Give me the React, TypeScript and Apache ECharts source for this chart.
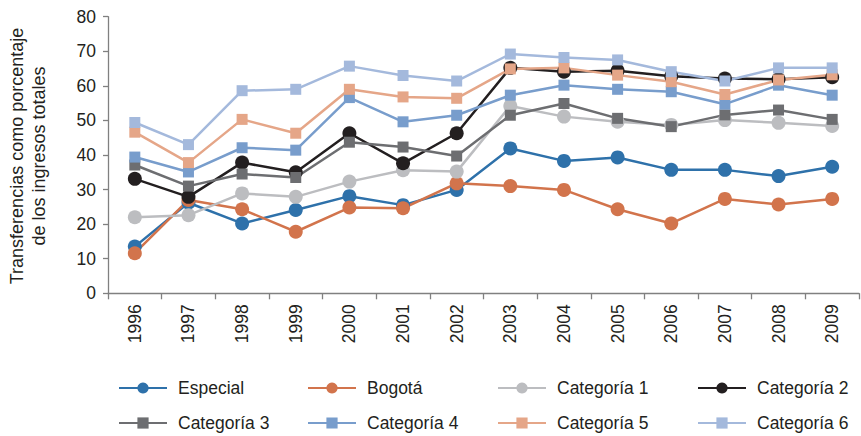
import React, { useEffect, useRef } from "react";
import * as echarts from "echarts";

const years = ["1996","1997","1998","1999","2000","2001","2002","2003","2004","2005","2006","2007","2008","2009"];
const especial = [13.5, 26.2, 20.2, 24.1, 28.1, 25.5, 29.9, 41.9, 38.3, 39.3, 35.7, 35.7, 33.9, 36.6];
const bogota = [11.6, 27.0, 24.3, 17.8, 24.8, 24.6, 31.8, 31.0, 29.9, 24.3, 20.2, 27.3, 25.7, 27.3];
const categoria1 = [22.0, 22.6, 28.9, 27.9, 32.3, 35.6, 35.2, 54.2, 51.1, 49.6, 48.7, 50.1, 49.3, 48.4];
const categoria2 = [33.1, 27.9, 37.8, 35.0, 46.3, 37.6, 46.3, 65.2, 64.1, 64.4, 62.8, 62.1, 61.9, 62.5];
const categoria3 = [37.1, 31.0, 34.5, 33.5, 43.7, 42.3, 39.7, 51.5, 54.9, 50.6, 48.2, 51.6, 53.0, 50.3];
const categoria4 = [39.4, 35.1, 42.1, 41.4, 56.6, 49.6, 51.5, 57.3, 60.2, 59.0, 58.3, 54.7, 60.2, 57.3];
const categoria5 = [46.6, 37.8, 50.3, 46.3, 59.0, 56.8, 56.4, 64.9, 65.2, 63.1, 61.2, 57.5, 61.7, 63.2];
const categoria6 = [49.4, 43.0, 58.6, 59.0, 65.7, 63.0, 61.4, 69.2, 68.2, 67.5, 64.1, 61.4, 65.2, 65.2];

const seriesNames = ["Especial","Bogotá","Categoría 1","Categoría 2","Categoría 3","Categoría 4","Categoría 5","Categoría 6"];
const seriesData = [especial, bogota, categoria1, categoria2, categoria3, categoria4, categoria5, categoria6];
const colors = ["#2e71aa","#d2744c","#bcbdc0","#231f20","#6d6e71","#789dcc","#e5a688","#a4b9dc"];
const symbols = ["circle","circle","circle","circle","rect","rect","rect","rect"];

const FONT = "'Liberation Sans', Arial, Helvetica, sans-serif";
const TXT = "#231f20";

export default function App() {
  const ref = useRef<HTMLDivElement>(null);
  useEffect(() => {
    document.body.style.margin = "0";
    const chart = echarts.init(ref.current!, null, { renderer: "svg" });
    const colLeft = [118, 307, 497, 697];
    const rowCenter = [388, 423];
    const legends = seriesNames.map((name, i) => ({
      orient: "horizontal",
      left: colLeft[i % 4],
      top: rowCenter[Math.floor(i / 4)] - 9,
      itemWidth: 48,
      itemHeight: 14,
      padding: 0,
      data: [name],
      textStyle: { fontFamily: FONT, fontSize: 17.5, lineHeight: 18, color: TXT, padding: [0, 0, 0, 6] },
    }));
    chart.setOption({
      animation: false,
      color: colors,
      textStyle: { fontFamily: FONT },
      grid: { left: 108, right: 2, top: 16.7, bottom: 142.7 },
      legend: legends,
      graphic: [
        {
          type: "text",
          x: 17,
          y: 156,
          rotation: Math.PI / 2,
          style: {
            text: "Transferencias como porcentaje",
            fontFamily: FONT,
            fontSize: 18,
            fill: TXT,
            align: "center",
            verticalAlign: "middle",
          },
        },
        {
          type: "text",
          x: 39,
          y: 156,
          rotation: Math.PI / 2,
          style: {
            text: "de los ingresos totales",
            fontFamily: FONT,
            fontSize: 18,
            fill: TXT,
            align: "center",
            verticalAlign: "middle",
          },
        },
      ],
      xAxis: {
        type: "category",
        data: years,
        boundaryGap: true,
        axisLine: { lineStyle: { color: "#808080", width: 1.3 } },
        axisTick: { show: true, length: 6, lineStyle: { color: "#808080", width: 1.3 } },
        axisLabel: {
          rotate: 90,
          margin: 11,
          fontSize: 17.5,
          fontFamily: FONT,
          color: TXT,
        },
        splitLine: { show: false },
      },
      yAxis: {
        type: "value",
        min: 0,
        max: 80,
        interval: 10,
        axisLine: { show: true, lineStyle: { color: "#808080", width: 1.3 } },
        axisTick: { show: true, length: 5, lineStyle: { color: "#808080", width: 1.3 } },
        axisLabel: { margin: 12, fontSize: 17.5, fontFamily: FONT, color: TXT },
        splitLine: { show: false },
      },
      series: seriesNames.map((name, i) => ({
        name,
        type: "line",
        data: seriesData[i],
        symbol: symbols[i],
        symbolSize: symbols[i] === "circle" ? 14 : 11,
        showAllSymbol: true,
        lineStyle: { width: 2.5, color: colors[i] },
        itemStyle: { color: colors[i] },
        emphasis: { disabled: true },
      })),
    });
    return () => chart.dispose();
  }, []);
  return <div ref={ref} style={{ width: 861, height: 436 }} />;
}
